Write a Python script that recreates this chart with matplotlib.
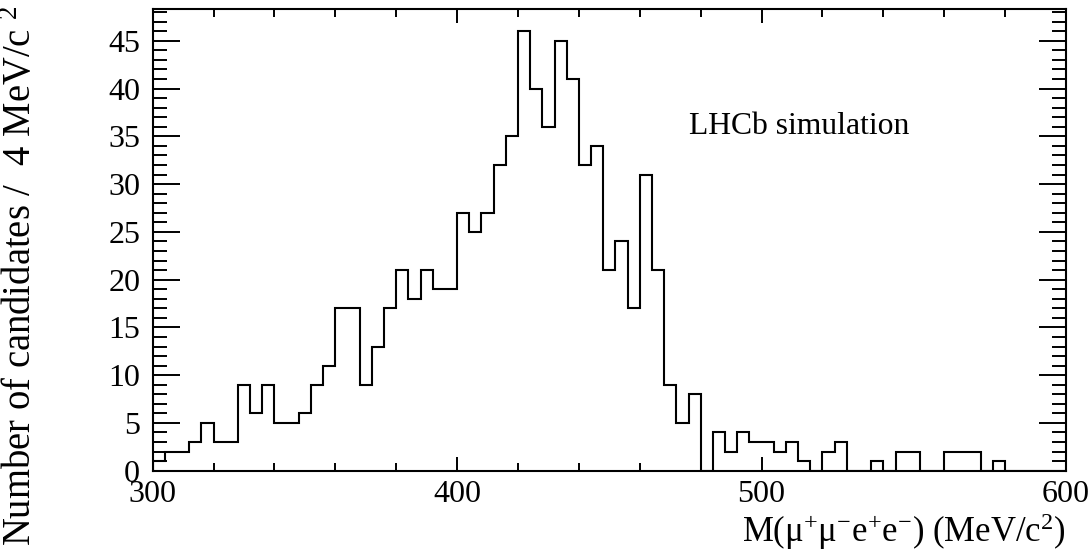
import numpy as np
import matplotlib
matplotlib.use("Agg")
import matplotlib.pyplot as plt
from matplotlib.ticker import MultipleLocator

# ---- data ----
bin_lo = 300
bin_hi = 600
bin_width = 4
counts = [1, 2, 2, 3, 5, 3, 3, 9, 6, 9,
          5, 5, 6, 9, 11, 17, 17, 9, 13, 17,
          21, 18, 21, 19, 19, 27, 25, 27, 32, 35,
          46, 40, 36, 45, 41, 32, 34, 21, 24, 17,
          31, 21, 9, 5, 8, 0, 4, 2, 4, 3,
          3, 2, 3, 1, 0, 2, 3, 0, 0, 1,
          0, 2, 2, 0, 0, 2, 2, 2, 0, 1,
          0, 0, 0, 0, 0]
x_ticks = [300, 400, 500, 600]
y_ticks = [0, 5, 10, 15, 20, 25, 30, 35, 40, 45]
y_max = 48.3
x_label = r"M($\mathrm{\mu^{+}\mu^{-}e^{+}e^{-}}$) (MeV/c$^{2}$)"
y_label = r"Number of candidates /  4 MeV/c $^{2}$"
annotation = "LHCb simulation"

plt.rcParams['font.family'] = ['Liberation Serif', 'DejaVu Serif']
plt.rcParams['mathtext.fontset'] = 'custom'
plt.rcParams['mathtext.rm'] = 'Liberation Serif'
plt.rcParams['mathtext.it'] = 'Liberation Serif:italic'
plt.rcParams['mathtext.bf'] = 'Liberation Serif:bold'

W, H = 1090, 553
fig = plt.figure(figsize=(W / 100, H / 100), dpi=100)
ax = fig.add_axes([152.7 / W, 1 - 470.7 / H, (1066 - 152.7) / W, (470.7 - 9.3) / H])

edges = np.arange(bin_lo, bin_hi + bin_width / 2, bin_width)
ax.stairs(counts, edges, color='black', linewidth=1.5, baseline=0)

ax.set_xlim(bin_lo, bin_hi)
ax.set_ylim(0, y_max)
ax.set_xticks(x_ticks)
ax.set_yticks(y_ticks)
ax.xaxis.set_minor_locator(MultipleLocator(20))
ax.yaxis.set_minor_locator(MultipleLocator(1))

for sp in ax.spines.values():
    sp.set_linewidth(1.5)

ax.tick_params(axis='both', which='both', direction='in', top=True, right=True,
               labelsize=23, width=1.4, colors='black')
ax.tick_params(axis='x', which='major', length=10, pad=7)
ax.tick_params(axis='x', which='minor', length=5.5)
ax.tick_params(axis='y', which='major', length=19.5, pad=9)
ax.tick_params(axis='y', which='minor', length=10)

fig.text(1066 / W, 1 - 532 / H, x_label, ha='right', va='center', fontsize=25)
fig.text(22 / W, 1 - 5 / H, y_label, ha='center', va='top', rotation=90, fontsize=27.8)
fig.text(689 / W, 1 - 134 / H, annotation, ha='left', va='baseline', fontsize=22.8)

fig.savefig('out.png', dpi=100)
